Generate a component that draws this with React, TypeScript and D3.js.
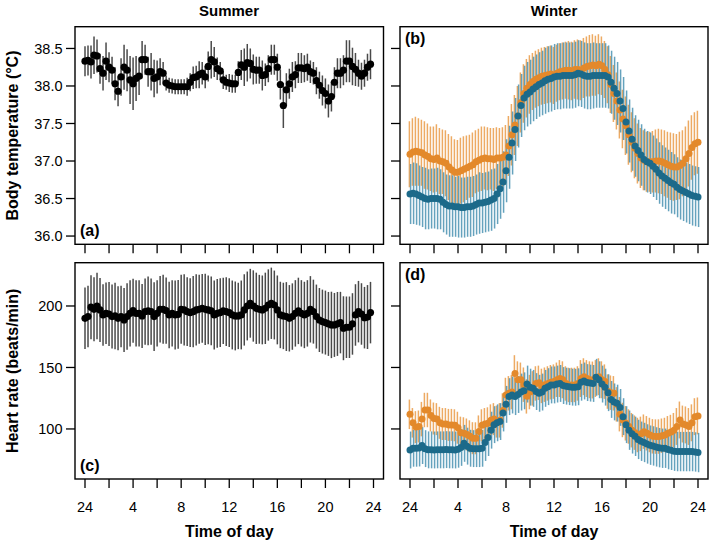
import React from "react";
import * as d3 from "d3";

// ---------- data ----------
const TIME_SUMMER = d3.range(96).map((i) => i * 0.25);
const TIME_WINTER = d3.range(97).map((i) => i * 0.25);

const X_TICKS = [0, 2, 4, 6, 8, 10, 12, 14, 16, 18, 20, 22, 24];
const X_LABEL_TICKS = [0, 4, 8, 12, 16, 20, 24];
const X_LABELS = ["24", "4", "8", "12", "16", "20", "24"];
const TEMP_TICKS = [36.0, 36.5, 37.0, 37.5, 38.0, 38.5];
const HR_TICKS = [100, 150, 200];

const SUMMER_TEMP = [
  38.33, 38.34, 38.32, 38.41, 38.4, 38.23, 38.17, 38.33, 38.25, 38.21,
  38.03, 37.93, 38.12, 38.25, 38.21, 38.08, 38.03, 38.1, 38.13, 38.35,
  38.35, 38.19, 38.19, 38.1, 38.12, 38.19, 38.17, 38.04, 38.01, 38.0,
  37.99, 37.99, 37.99, 37.99, 37.99, 38.05, 38.11, 38.12, 38.15, 38.17,
  38.12, 38.26, 38.35, 38.32, 38.23, 38.2, 38.08, 38.05, 38.04, 38.03,
  38.03, 38.18, 38.28, 38.25, 38.31, 38.3, 38.22, 38.21, 38.21, 38.14,
  38.15, 38.23, 38.35, 38.35, 38.25, 38.02, 37.74, 37.95, 38.03, 38.12,
  38.15, 38.24, 38.24, 38.23, 38.25, 38.19, 38.17, 38.07, 38.01, 37.94,
  37.9, 37.8, 37.86, 38.05, 38.17, 38.17, 38.21, 38.33, 38.33, 38.26,
  38.22, 38.17, 38.13, 38.17, 38.25, 38.29,
];
const SUMMER_TEMP_SD = [
  0.2, 0.2, 0.22, 0.25, 0.22, 0.2, 0.23, 0.25, 0.2, 0.18,
  0.22, 0.2, 0.25, 0.3, 0.28, 0.32, 0.35, 0.3, 0.25, 0.25,
  0.2, 0.2, 0.25, 0.25, 0.22, 0.18, 0.15, 0.1, 0.1, 0.1,
  0.1, 0.1, 0.1, 0.1, 0.12, 0.12, 0.15, 0.15, 0.18, 0.15,
  0.15, 0.2, 0.25, 0.2, 0.15, 0.12, 0.12, 0.1, 0.12, 0.12,
  0.12, 0.15, 0.2, 0.25, 0.25, 0.2, 0.2, 0.18, 0.18, 0.2,
  0.15, 0.18, 0.2, 0.2, 0.18, 0.2, 0.3, 0.22, 0.2, 0.2,
  0.18, 0.2, 0.2, 0.18, 0.18, 0.15, 0.15, 0.18, 0.18, 0.2,
  0.2, 0.22, 0.2, 0.2, 0.2, 0.2, 0.2, 0.28, 0.28, 0.25,
  0.22, 0.18, 0.18, 0.18, 0.18, 0.2,
];

const WINTER_TEMP_A = [
  37.09, 37.12, 37.13, 37.12, 37.11, 37.08, 37.06, 37.03, 37.02, 37.04,
  37.0, 36.99, 36.97, 36.92, 36.88, 36.85, 36.85, 36.87, 36.89, 36.91,
  36.93, 36.95, 36.99, 37.01, 37.03, 37.04, 37.03, 37.03, 37.02, 37.04,
  37.04, 37.05, 37.08, 37.2, 37.35, 37.48, 37.6, 37.78, 37.9, 37.97,
  38.02, 38.06, 38.09, 38.11, 38.13, 38.14, 38.15, 38.16,
  38.14, 38.17, 38.19, 38.2, 38.21, 38.21, 38.2, 38.22, 38.22, 38.21,
  38.24, 38.26, 38.27, 38.28, 38.27, 38.29, 38.27, 38.22, 38.15, 38.02,
  37.9, 37.8, 37.68, 37.56, 37.47, 37.35, 37.25, 37.17, 37.1, 37.04,
  37.01, 36.99, 36.99, 36.99, 37.0, 37.0, 36.99, 36.97, 36.95, 36.93,
  36.92, 36.92, 36.94, 36.97, 37.03, 37.1, 37.18, 37.23, 37.25,
];
const WINTER_TEMP_A_SD = [
  0.44, 0.45, 0.46, 0.45, 0.44, 0.45, 0.44, 0.43, 0.44, 0.45,
  0.44, 0.43, 0.44, 0.44, 0.45, 0.44, 0.43, 0.44, 0.44, 0.43,
  0.42, 0.43, 0.42, 0.42, 0.43, 0.42, 0.42, 0.41, 0.42, 0.41,
  0.4, 0.4, 0.4, 0.4, 0.41, 0.4, 0.4, 0.4, 0.39, 0.39,
  0.39, 0.38, 0.38, 0.38, 0.38, 0.38, 0.38, 0.38,
  0.38, 0.38, 0.38, 0.38, 0.38, 0.39, 0.39, 0.39, 0.4, 0.4,
  0.4, 0.4, 0.41, 0.41, 0.4, 0.4, 0.39, 0.38, 0.38, 0.38,
  0.38, 0.38, 0.38, 0.39, 0.39, 0.4, 0.4, 0.4, 0.4, 0.4,
  0.4, 0.4, 0.4, 0.41, 0.42, 0.43, 0.43, 0.44, 0.44, 0.45,
  0.45, 0.44, 0.45, 0.44, 0.43, 0.44, 0.43, 0.42, 0.42,
];
const WINTER_TEMP_B = [
  36.56, 36.57, 36.56, 36.54, 36.52, 36.5, 36.49, 36.5, 36.5, 36.5,
  36.49, 36.45, 36.42, 36.4, 36.4, 36.39, 36.39, 36.38, 36.38, 36.39,
  36.39, 36.4, 36.42, 36.44, 36.44, 36.45, 36.46, 36.48, 36.5, 36.56,
  36.63, 36.72, 36.87, 37.05, 37.24, 37.42, 37.6, 37.74, 37.84, 37.89,
  37.92, 37.96, 37.99, 38.02, 38.04, 38.07, 38.09, 38.1,
  38.12, 38.13, 38.13, 38.14, 38.14, 38.14, 38.14, 38.15, 38.17, 38.16,
  38.14, 38.13, 38.13, 38.14, 38.14, 38.14, 38.14, 38.14, 38.12, 38.05,
  37.97, 37.9, 37.8, 37.7, 37.52, 37.4, 37.29, 37.2, 37.14, 37.08,
  37.02, 36.99, 36.97, 36.93, 36.89, 36.84, 36.8, 36.77, 36.74, 36.71,
  36.69, 36.65, 36.62, 36.6, 36.58, 36.56, 36.54, 36.53, 36.52,
];
const WINTER_TEMP_B_SD = [
  0.4, 0.41, 0.41, 0.4, 0.4, 0.41, 0.4, 0.4, 0.4, 0.41,
  0.4, 0.4, 0.4, 0.41, 0.41, 0.4, 0.41, 0.4, 0.4, 0.4,
  0.4, 0.4, 0.4, 0.41, 0.4, 0.4, 0.4, 0.41, 0.4, 0.4,
  0.4, 0.41, 0.42, 0.42, 0.42, 0.42, 0.42, 0.42, 0.43, 0.43,
  0.43, 0.43, 0.43, 0.43, 0.43, 0.44, 0.44, 0.44,
  0.44, 0.44, 0.44, 0.44, 0.44, 0.44, 0.44, 0.44, 0.44, 0.44,
  0.44, 0.44, 0.44, 0.44, 0.43, 0.43, 0.43, 0.43, 0.42, 0.42,
  0.42, 0.42, 0.42, 0.42, 0.42, 0.42, 0.42, 0.41, 0.41, 0.41,
  0.41, 0.41, 0.41, 0.41, 0.41, 0.41, 0.41, 0.41, 0.41, 0.41,
  0.4, 0.4, 0.4, 0.4, 0.4, 0.4, 0.4, 0.4, 0.4,
];

const SUMMER_HR = [
  190, 191.4, 199, 197.3, 200, 196.8, 192.7, 194, 193.5, 191.4,
  191.9, 190, 191.4, 188.6, 191.4, 194, 196.2, 194, 194, 191.9,
  195.4, 196, 195.4, 191.4, 194, 197.3, 197.3, 196.2, 192.7, 194,
  192.7, 193.2, 197.3, 196.8, 195.4, 194.6, 195.4, 196.8, 197.3, 198.1,
  197.3, 196.8, 196, 192.7, 194, 194.6, 196, 195.4, 194.6, 192.7,
  191.9, 191.9, 192.7, 196.8, 200, 202.2, 200, 198.1, 197.3, 196.8,
  198.1, 200.8, 202.2, 200.8, 196.8, 192.7, 191.9, 191.4, 190, 191.4,
  194, 196, 194, 192.7, 194, 197.3, 195.4, 191.4, 188.6, 187.3,
  186.5, 185.4, 184.6, 184.6, 185.4, 186.5, 181.9, 182.7, 182.7, 185.4,
  192.7, 195.4, 193.5, 190.5, 191, 194.6,
];
const SUMMER_HR_SD = [
  25, 25, 26, 26, 27, 26, 25, 25, 26, 26,
  27, 26, 25, 26, 27, 27, 26, 27, 27, 26,
  27, 28, 27, 28, 27, 27, 28, 27, 27, 27,
  28, 28, 28, 29, 28, 28, 29, 29, 28, 28,
  29, 28, 28, 28, 28, 28, 27, 28, 28, 28,
  28, 27, 28, 29, 28, 28, 29, 29, 28, 28,
  29, 29, 29, 28, 28, 27, 27, 28, 27, 27,
  27, 27, 27, 27, 27, 27, 26, 26, 26, 26,
  26, 26, 27, 26, 26, 25, 26, 25, 25, 25,
  25, 25, 25, 25, 26, 25,
];

const WINTER_HR_A = [
  111.9, 105, 101.5, 102, 108, 115.4, 115.4, 111, 108.5, 108,
  105, 104, 104, 103.3, 103.3, 103, 101, 97, 96.5, 95.5,
  94, 92.5, 92.4, 98, 103, 104, 104.6, 107, 108, 106,
  107, 115, 127.6, 129, 130, 145, 140, 140, 136, 126.5,
  130, 133, 137, 137.5, 135, 136, 137, 138,
  138.5, 140, 141, 140, 137, 135.8, 135.8, 135.8, 137, 141,
  142.5, 141, 140, 139.8, 141, 142.5, 140, 138.5, 130.4, 129.5,
  129, 120, 112, 107.3, 104.6, 102, 99, 97, 95.1, 96,
  97.8, 96.5, 95.1, 94, 93.8, 93.8, 94.5, 95.1, 96.5, 97.5,
  99, 102, 107.3, 104, 103.3, 102, 105, 110, 110.6,
];
const WINTER_HR_A_SD = [
  12, 12, 13, 13, 14, 14, 14, 13, 13, 13,
  13, 13, 13, 13, 13, 13, 13, 13, 13, 13,
  13, 13, 13, 13, 13, 13, 13, 13, 13, 13,
  14, 14, 14, 14, 14, 15, 15, 14, 14, 14,
  14, 14, 14, 14, 14, 14, 14, 14,
  14, 14, 15, 15, 14, 14, 14, 14, 14, 15,
  15, 15, 15, 15, 15, 15, 15, 14, 14, 14,
  14, 14, 14, 14, 14, 14, 14, 14, 14, 14,
  14, 14, 14, 14, 14, 14, 14, 14, 14, 14,
  14, 15, 15, 15, 15, 15, 15, 15, 15,
];
const WINTER_HR_B = [
  82.9, 84.3, 84.3, 84.5, 86.5, 84, 83, 83, 82.9, 83,
  83, 83, 83.2, 83, 83, 82.9, 83.5, 85, 88.3, 86,
  84.3, 84, 84, 84, 84.3, 89, 93, 99, 103.5, 105,
  106, 113, 120, 126.3, 127.6, 126.3, 128, 130, 131, 136.5,
  134, 133, 130.4, 129, 130, 133, 134.4, 135.8,
  135.8, 136.5, 137, 135.3, 134.8, 134.4, 134, 133.9, 134.3, 138,
  139, 137.7, 137.3, 137, 142, 140, 136.5, 134, 129.5, 124,
  122, 121, 117.5, 110, 103.5, 99, 96, 94, 91.5, 90,
  89, 87.8, 86.8, 86.2, 85.4, 84.8, 84.3, 84.3, 83.2, 82.6,
  81.9, 81.6, 81.6, 81.6, 81.6, 81.6, 81.6, 81.3, 80.8,
];
const WINTER_HR_B_SD = [
  15, 15, 15, 15, 15, 15, 15, 15, 15, 15,
  15, 15, 15, 15, 15, 15, 15, 15, 15, 15,
  15, 15, 15, 15, 15, 15, 15, 15, 15, 15,
  15, 15, 15, 15, 15, 15, 15, 15, 15, 15,
  15, 15, 15, 15, 15, 15, 15, 15,
  15, 15, 15, 15, 15, 15, 15, 15, 15, 15,
  15, 15, 15, 15, 15, 15, 15, 15, 15, 15,
  15, 15, 15, 15, 15, 16, 16, 16, 16, 16,
  16, 16, 16, 16, 16, 16, 16, 16, 16, 16,
  16, 16, 16, 16, 16, 16, 16, 16, 16,
];

// ---------- styling ----------
const ORANGE = "#E3892B";
const BLUE = "#1C6A8A";
const ORANGE_BAR = "#EA9B48";
const BLUE_BAR = "#3F8BAD";
const FONT = "'Liberation Sans', Arial, Helvetica, sans-serif";

const COLS = [
  { x0: 75, x1: 383.5 },
  { x0: 400, x1: 708 },
];
const ROWS = [
  { y0: 26.7, y1: 244.3, domain: [35.89, 38.79], ticks: TEMP_TICKS, fmt: d3.format(".1f") },
  { y0: 262.7, y1: 479, domain: [59.3, 235.2], ticks: HR_TICKS, fmt: d3.format("d") },
];

type Series = {
  t: number[];
  v: number[];
  sd: number[];
  dot: string;
  bar: string;
  barOpacity: number;
  barWidth: number;
  r: number;
  dx: number;
};

function Bars({ s, x, y }: { s: Series; x: any; y: any }) {
  return (
    <g stroke={s.bar} strokeWidth={s.barWidth} strokeOpacity={s.barOpacity}>
      {s.v.map((v, i) => (
        <line
          key={i}
          x1={x(s.t[i]) + s.dx}
          x2={x(s.t[i]) + s.dx}
          y1={y(v - s.sd[i])}
          y2={y(v + s.sd[i])}
        />
      ))}
    </g>
  );
}

function Dots({ s, x, y }: { s: Series; x: any; y: any }) {
  return (
    <g fill={s.dot}>
      {s.v.map((v, i) => (
        <circle key={i} cx={x(s.t[i])} cy={y(v)} r={s.r} />
      ))}
    </g>
  );
}

function Panel({
  col,
  row,
  series,
  label,
  labelPos,
  showYLabels,
  showXLabels,
}: {
  col: number;
  row: number;
  series: Series[];
  label: string;
  labelPos: "top" | "bottom";
  showYLabels: boolean;
  showXLabels: boolean;
}) {
  const C = COLS[col];
  const R = ROWS[row];
  const x = d3.scaleLinear().domain([0, 24]).range([C.x0 + 10, C.x1 - 10]);
  const y = d3.scaleLinear().domain(R.domain).range([R.y1, R.y0]);
  const TL = 9;
  return (
    <g>
      {series.map((s, i) => (
        <Bars key={"b" + i} s={s} x={x} y={y} />
      ))}
      {series.map((s, i) => (
        <Dots key={"d" + i} s={s} x={x} y={y} />
      ))}
      <rect
        x={C.x0}
        y={R.y0}
        width={C.x1 - C.x0}
        height={R.y1 - R.y0}
        fill="none"
        stroke="#000"
        strokeWidth={1.4}
      />
      {R.ticks.map((t) => (
        <g key={"yt" + t}>
          <line x1={C.x0 - TL} x2={C.x0} y1={y(t)} y2={y(t)} stroke="#000" strokeWidth={1.3} />
          {showYLabels && (
            <text
              x={C.x0 - TL - 3.5}
              y={y(t)}
              dy="0.36em"
              textAnchor="end"
              fontSize={14.5}
              fontFamily={FONT}
              fill="#000"
            >
              {R.fmt(t)}
            </text>
          )}
        </g>
      ))}
      {X_TICKS.map((t) => (
        <line
          key={"xt" + t}
          x1={x(t)}
          x2={x(t)}
          y1={R.y1}
          y2={R.y1 + TL}
          stroke="#000"
          strokeWidth={1.3}
        />
      ))}
      {showXLabels &&
        X_LABEL_TICKS.map((t, i) => (
          <text
            key={"xl" + t}
            x={x(t)}
            y={R.y1 + 33}
            textAnchor="middle"
            fontSize={14.5}
            fontFamily={FONT}
            fill="#000"
          >
            {X_LABELS[i]}
          </text>
        ))}
      {showXLabels && (
        <text
          x={(C.x0 + C.x1) / 2}
          y={536.5}
          textAnchor="middle"
          fontSize={16}
          fontWeight="bold"
          fontFamily={FONT}
        >
          Time of day
        </text>
      )}
      <text
        x={C.x0 + 5}
        y={labelPos === "top" ? R.y0 + 17 : R.y1 - 8}
        fontSize={16}
        fontWeight="bold"
        fontFamily={FONT}
      >
        {label}
      </text>
    </g>
  );
}

const mk = (
  t: number[],
  v: number[],
  sd: number[],
  dot: string,
  bar: string,
  barOpacity: number,
  barWidth: number,
  r: number,
  dx: number
): Series => ({ t, v, sd, dot, bar, barOpacity, barWidth, r, dx });

export default function App() {
  const sumTemp = [mk(TIME_SUMMER, SUMMER_TEMP, SUMMER_TEMP_SD, "#000", "#4a4a4a", 1, 1.5, 3.6, 0)];
  const winTemp = [
    mk(TIME_WINTER, WINTER_TEMP_A, WINTER_TEMP_A_SD, ORANGE, ORANGE_BAR, 0.85, 1.5, 3.5, -0.6),
    mk(TIME_WINTER, WINTER_TEMP_B, WINTER_TEMP_B_SD, BLUE, BLUE_BAR, 0.8, 1.5, 3.5, 0.6),
  ];
  const sumHR = [mk(TIME_SUMMER, SUMMER_HR, SUMMER_HR_SD, "#000", "#4a4a4a", 1, 1.5, 3.6, 0)];
  const winHR = [
    mk(TIME_WINTER, WINTER_HR_A, WINTER_HR_A_SD, ORANGE, ORANGE_BAR, 0.85, 1.5, 3.5, -0.6),
    mk(TIME_WINTER, WINTER_HR_B, WINTER_HR_B_SD, BLUE, BLUE_BAR, 0.8, 1.5, 3.5, 0.6),
  ];
  return (
    <svg
      width={709}
      height={544}
      style={{ position: "absolute", left: 0, top: 0, background: "#fff" }}
    >
      <rect x={0} y={0} width={709} height={544} fill="#fff" />
      <text x={229} y={16} textAnchor="middle" fontSize={15} fontWeight="bold" fontFamily={FONT}>
        Summer
      </text>
      <text x={554} y={16} textAnchor="middle" fontSize={15} fontWeight="bold" fontFamily={FONT}>
        Winter
      </text>
      <text
        transform={`translate(18,${(ROWS[0].y0 + ROWS[0].y1) / 2}) rotate(-90)`}
        textAnchor="middle"
        fontSize={16}
        fontWeight="bold"
        fontFamily={FONT}
      >
        Body temperature (°C)
      </text>
      <text
        transform={`translate(18,${(ROWS[1].y0 + ROWS[1].y1) / 2}) rotate(-90)`}
        textAnchor="middle"
        fontSize={16}
        fontWeight="bold"
        fontFamily={FONT}
      >
        Heart rate (beats/min)
      </text>
      <Panel col={0} row={0} series={sumTemp} label="(a)" labelPos="bottom" showYLabels showXLabels={false} />
      <Panel col={1} row={0} series={winTemp} label="(b)" labelPos="top" showYLabels={false} showXLabels={false} />
      <Panel col={0} row={1} series={sumHR} label="(c)" labelPos="bottom" showYLabels showXLabels />
      <Panel col={1} row={1} series={winHR} label="(d)" labelPos="top" showYLabels={false} showXLabels />
    </svg>
  );
}
